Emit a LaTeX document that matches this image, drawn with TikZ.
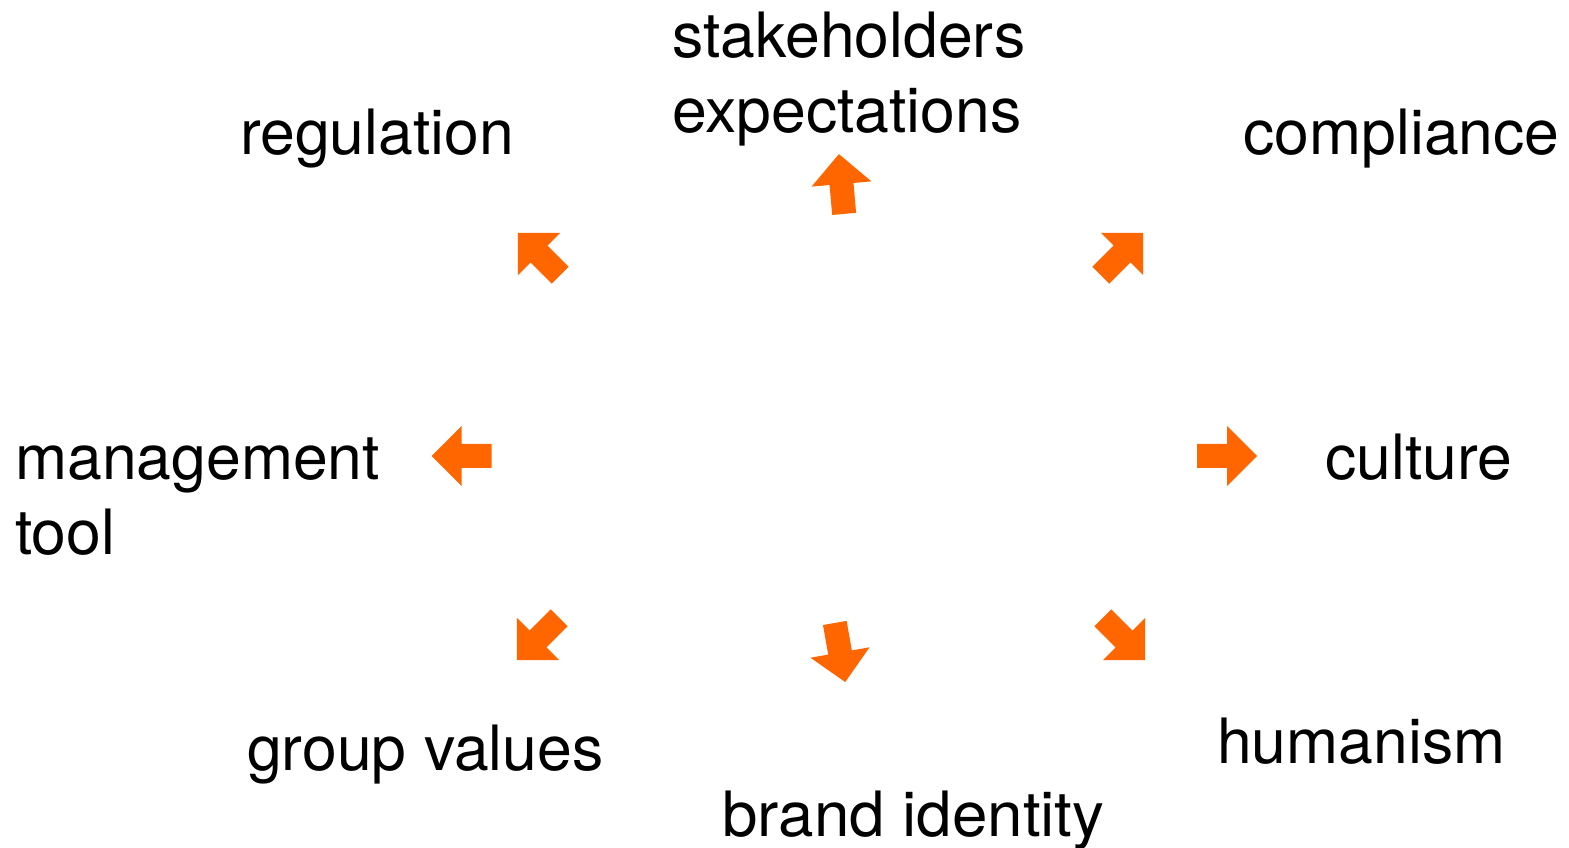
\documentclass[tikz,border=0pt]{standalone}
\usepackage{fontspec}
\setmainfont{TeX Gyre Heros}
\definecolor{arroworange}{HTML}{FF6600}
\tikzset{
  lbl/.style={anchor=base west, inner sep=0pt, text=black,
    font=\fontsize{62.5}{75}\selectfont},
  % block arrow, 60 long, head 60 wide and 30 long, shaft 24 wide
  pics/fatarrow/.style={code={
    \fill[arroworange] (-30,-12) -- (0,-12) -- (0,-30) -- (30,0)
      -- (0,30) -- (0,12) -- (-30,12) -- cycle;}}
}
\begin{document}
\begin{tikzpicture}[x=1pt,y=1pt]
\useasboundingbox (0,0) rectangle (1569,847);

% labels
\node[lbl] (stake) at (672,789) {\vtop{\hbox{stakeholders}\hbox{expectations}}};
\node[lbl] (reg)   at (240,692) {regulation};
\node[lbl] (comp)  at (1243,692) {compliance};
\node[lbl] (mgmt)  at (15,367) {\vtop{\hbox{management}\hbox{tool}}};
\node[lbl] (cult)  at (1325,367) {culture};
\node[lbl] (group) at (247,77) {group values};
\node[lbl, xscale=1.02] (brand) at (722,11) {brand identity};
\node[lbl] (human) at (1217,84) {humanism};

% arrows pointing outwards
\pic[rotate=95]  at (841.5,663) {fatarrow};
\pic[rotate=-80] at (840,194.5) {fatarrow};
\pic[rotate=135] at (539,593)   {fatarrow};
\pic[rotate=45]  at (1122,593)  {fatarrow};
\pic[rotate=180] at (461.5,391) {fatarrow};
\pic             at (1227,391)  {fatarrow};
\pic[rotate=225] at (538,208)   {fatarrow};
\pic[rotate=-45] at (1124,208)  {fatarrow};
\end{tikzpicture}
\end{document}
